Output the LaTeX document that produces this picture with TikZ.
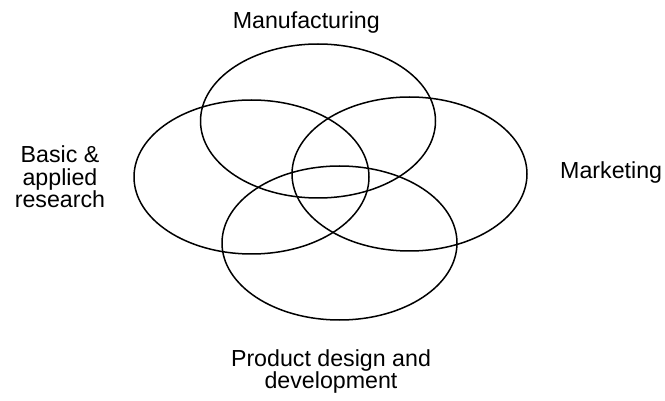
\documentclass[tikz,border=0pt]{standalone}
\usepackage{fontspec}
\setmainfont{Liberation Sans}
\usetikzlibrary{shapes.geometric}
\begin{document}
\begin{tikzpicture}[x=1pt,y=-1pt,
  area/.style={ellipse,draw=black,line width=1.5pt,inner sep=0pt,
    minimum width=235pt,minimum height=154pt},
  lbl/.style={inner sep=0pt,align=center,
    font=\fontsize{23.2}{22.4}\selectfont}]
\useasboundingbox (0,0) rectangle (665,401);
\node[area] (manu) at (318,121) {};
\node[area] (basic) at (251.5,177) {};
\node[area] (mkt) at (409.5,174) {};
\node[area] (prod) at (339.5,243) {};
\node[lbl,anchor=base] (tmanu) at (306.3,28.3) {Manufacturing};
\node[lbl] (tbasic) at (60,177) {Basic \&\\applied\\research};
\node[lbl,anchor=base west] (tmkt) at (560,179) {Marketing};
\node[lbl] (tprod) at (331,371.5) {Product design and\\development};
\end{tikzpicture}
\end{document}
